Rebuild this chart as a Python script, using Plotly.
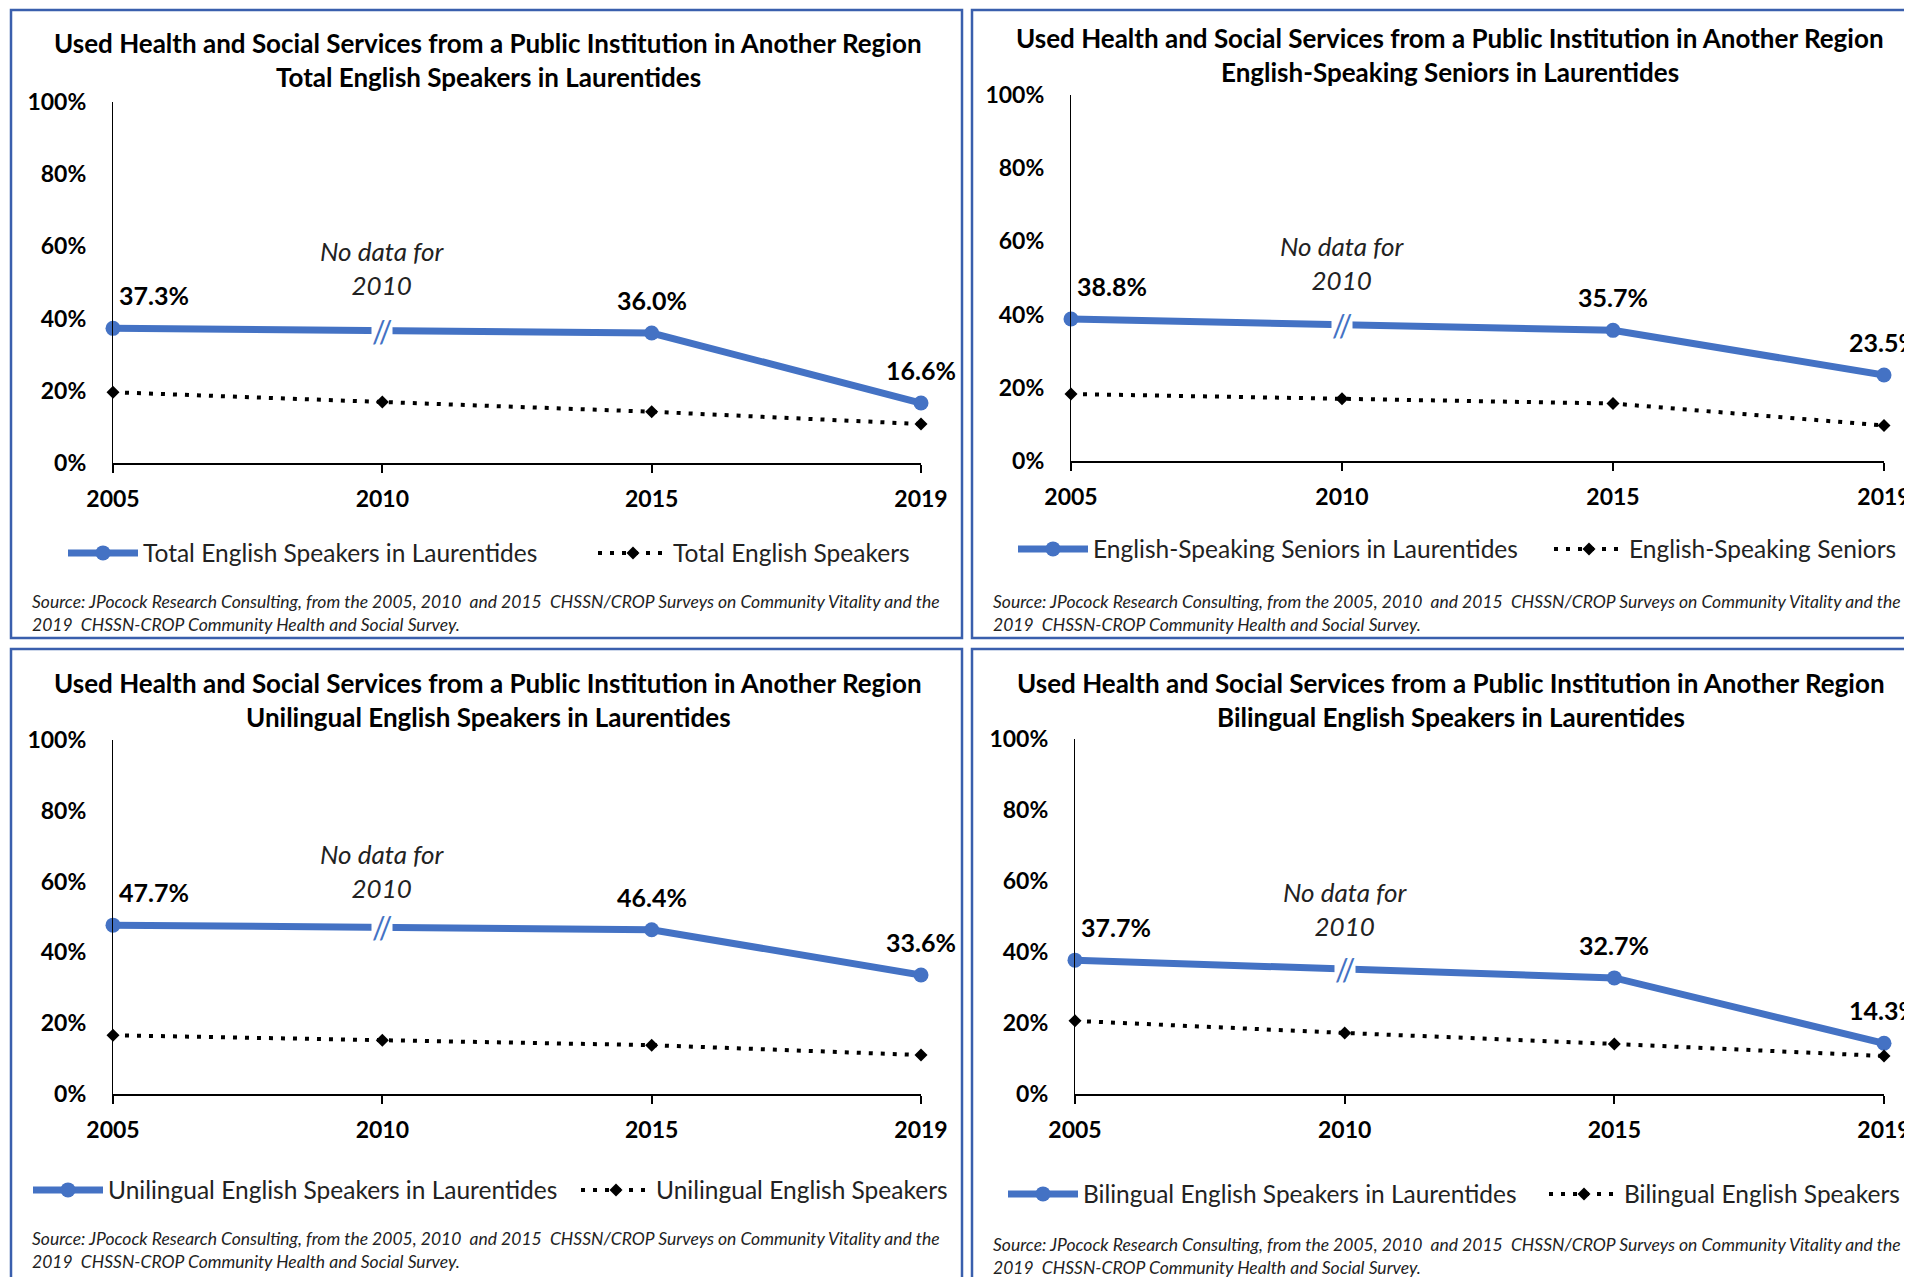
import plotly.graph_objects as go

# category axis: the four survey years
years = ['2005', '2010', '2015', '2019']

# blue series (Laurentides) - no value for 2010
total_lau = [37.3, None, 36.0, 16.6]
seniors_lau = [38.8, None, 35.7, 23.5]
unilingual_lau = [47.7, None, 46.4, 33.6]
bilingual_lau = [37.7, None, 32.7, 14.3]

# black dotted series (comparison group)
total_all = [19.6, 16.9, 14.2, 10.8]
seniors_all = [18.3, 17.0, 15.7, 9.7]
unilingual_all = [16.6, 15.2, 13.8, 11.0]
bilingual_all = [20.6, 17.2, 14.1, 10.7]

main_title = 'Used Health and Social Services from a Public Institution in Another Region'
sub_titles = ['Total English Speakers in Laurentides',
              'English-Speaking Seniors in Laurentides',
              'Unilingual English Speakers in Laurentides',
              'Bilingual English Speakers in Laurentides']
group_names = ['Total English Speakers', 'English-Speaking Seniors',
               'Unilingual English Speakers', 'Bilingual English Speakers']
source_text = ('Source: JPocock Research Consulting, from the 2005, 2010  and 2015  CHSSN/CROP Surveys on Community Vitality and the'
               '<br>2019  CHSSN-CROP Community Health and Social Survey.')
note_text = 'No data for<br>2010'

lau_series = [total_lau, seniors_lau, unilingual_lau, bilingual_lau]
all_series = [total_all, seniors_all, unilingual_all, bilingual_all]

W, H = 1912, 1277
OFF = 8  # page body margin
BLUE = '#4472C4'
FONT = 'Lato'


def fx(px):
    return (px - OFF) / W


def fy(py):
    return 1 - (py - OFF) / H


# panel geometry in page pixels
panels = [
    dict(px=(113, 921), py=(463, 102), box=(11, 10, 962, 638), title_y=(43, 77), cx=488,
         leg=(63, 553), pitch=530, src=(30, 613), note=54),
    dict(px=(1071, 1884), py=(461, 95), box=(972, 10, 1930, 638), title_y=(38, 72), cx=1450,
         leg=(1013, 549), pitch=536, src=(991, 613), note=54),
    dict(px=(113, 921), py=(1094, 740), box=(11, 649, 962, 1290), title_y=(683, 717), cx=488,
         leg=(28, 1190), pitch=548, src=(30, 1250), note=63),
    dict(px=(1075, 1884), py=(1094, 739), box=(972, 649, 1930, 1290), title_y=(683, 717), cx=1451,
         leg=(1003, 1194), pitch=541, src=(991, 1256), note=52),
]

fig = go.Figure()
shapes = []
annotations = []
layout = {}
SYM_W = 70

for i, p in enumerate(panels):
    n = i + 1
    xref = 'x' if n == 1 else f'x{n}'
    yref = 'y' if n == 1 else f'y{n}'
    leg = 'legend' if n == 1 else f'legend{n}'
    lau = lau_series[i]
    grp = all_series[i]

    fig.add_trace(go.Scatter(
        x=years, y=lau, name=sub_titles[i], xaxis=xref, yaxis=yref, legend=leg,
        mode='lines+markers', connectgaps=True, cliponaxis=False,
        line=dict(color=BLUE, width=7), marker=dict(color=BLUE, size=15),
    ))
    fig.add_trace(go.Scatter(
        x=years, y=grp, name=group_names[i], xaxis=xref, yaxis=yref, legend=leg,
        mode='lines+markers', cliponaxis=False,
        line=dict(color='black', width=4, dash='4px,8px'),
        marker=dict(color='black', size=10, symbol='diamond'),
    ))

    x0, x1 = p['px']
    y0, y1 = p['py']
    layout['xaxis' if n == 1 else f'xaxis{n}'] = dict(
        domain=[fx(x0), fx(x1)], anchor=yref, type='category',
        categoryorder='array', categoryarray=years, range=[0, len(years) - 1],
        autorange=False, automargin=False,
        showline=True, linecolor='black', linewidth=2, ticks='outside', ticklen=8,
        tickwidth=2, tickcolor='black', showgrid=False, zeroline=False,
        ticklabelstandoff=6,
        tickfont=dict(family=FONT, size=23, color='black', weight='bold'),
    )
    layout['yaxis' if n == 1 else f'yaxis{n}'] = dict(
        domain=[fy(y0), fy(y1)], anchor=xref, range=[0, 100], dtick=20,
        autorange=False, automargin=False,
        ticksuffix='%', showline=True, linecolor='black', linewidth=1.2,
        ticks='', showgrid=False, zeroline=False, ticklabelstandoff=21,
        tickfont=dict(family=FONT, size=23, color='black', weight='bold'),
    )
    layout[leg] = dict(
        x=fx(p['leg'][0]), y=fy(p['leg'][1]), xanchor='left', yanchor='middle',
        orientation='h', bgcolor='rgba(0,0,0,0)', itemwidth=SYM_W,
        entrywidth=p['pitch'] - SYM_W - 15,
        font=dict(family=FONT, size=24.5, color='#222'),
    )

    # panel frame
    bx0, by0, bx1, by1 = p['box']
    shapes.append(dict(type='rect', xref='paper', yref='paper',
                       x0=fx(bx0), x1=fx(bx1), y0=fy(by0), y1=fy(by1),
                       line=dict(color='#3A5FAD', width=2.5)))

    # titles
    for txt, ty in zip([main_title, sub_titles[i]], p['title_y']):
        annotations.append(dict(text=txt, xref='paper', yref='paper', x=fx(p['cx']),
                                y=fy(ty), xanchor='center', yanchor='middle', showarrow=False,
                                font=dict(family=FONT, size=26, color='black', weight='bold')))

    # value labels (category axis positions are serial numbers)
    for k, v in enumerate(lau):
        if v is None:
            continue
        annotations.append(dict(text=f'{v:.1f}%', xref=xref, yref=yref, x=k, y=v,
                                xanchor='left' if k == 0 else 'center', yanchor='bottom',
                                xshift=4 if k == 0 else 0, yshift=16, showarrow=False,
                                font=dict(family=FONT, size=25, color='black', weight='bold')))

    # break marker at missing year
    mid = (lau[0] + lau[2]) / 2
    annotations.append(dict(text='//', xref=xref, yref=yref, x=1, y=mid,
                            showarrow=False, bgcolor='white', borderpad=0,
                            font=dict(family=FONT, size=30, color=BLUE)))
    annotations.append(dict(text=note_text, xref=xref, yref=yref, x=1, y=p['note'],
                            showarrow=False,
                            font=dict(family=FONT, size=26, color='#222', style='italic')))

    # source note
    annotations.append(dict(text=source_text, xref='paper', yref='paper',
                            x=fx(p['src'][0]), y=fy(p['src'][1]), xanchor='left',
                            yanchor='middle', align='left', showarrow=False,
                            font=dict(family=FONT, size=17.5, color='#222', style='italic')))

fig.update_layout(
    width=W, height=H, margin=dict(l=0, r=0, t=0, b=0, autoexpand=False),
    paper_bgcolor='white', plot_bgcolor='white',
    shapes=shapes, annotations=annotations, **layout,
)

fig.write_html('out.html')
